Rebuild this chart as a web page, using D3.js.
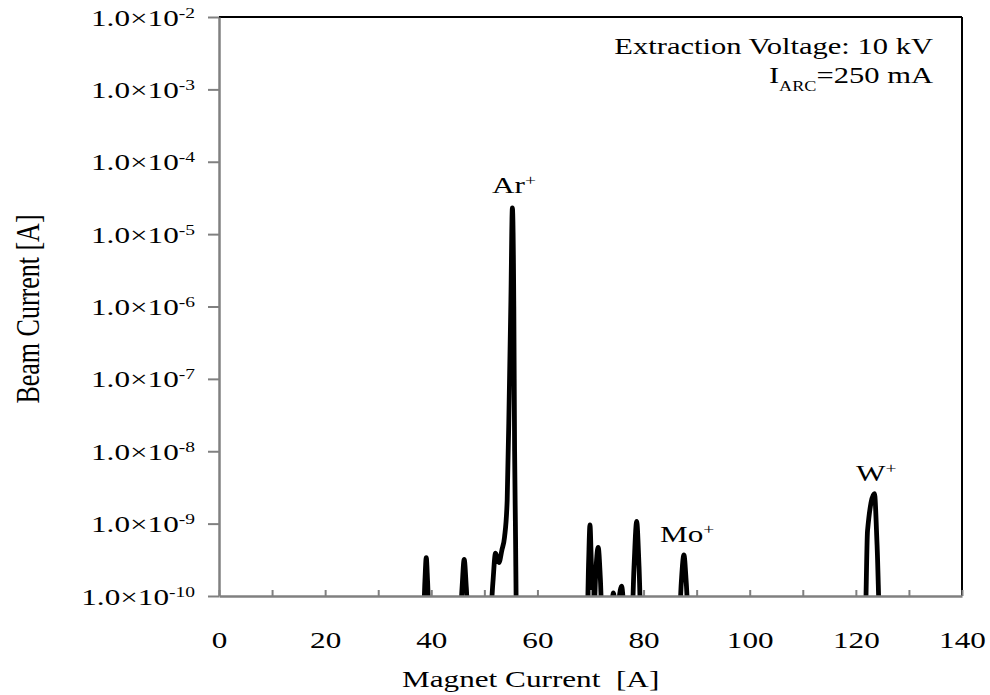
<!DOCTYPE html>
<html>
<head>
<meta charset="utf-8">
<script src="https://cdn.jsdelivr.net/npm/d3@7"></script>
<style>
  body { margin: 0; background: #fff; }
  svg text { font-family: "Liberation Serif", "Times New Roman", serif; fill: #000; }
</style>
</head>
<body>
<div id="chart"></div>
<script>
// magnet current sweep [A] and measured beam current [A]
// values below 1e-10 fall under the axis and get clipped, like in the original
const magnetCurrent = [
  0, 38.4, 38.8, 39.05, 39.3, 39.7,
  45.3, 45.8, 46.2, 46.6, 47.1,
  50.9, 51.6, 52.1, 52.75, 53.3, 53.8, 54.3, 54.7, 55.0, 55.28, 55.55, 55.7, 55.85, 56.1,
  69.3, 69.65, 69.9, 70.15, 70.55, 70.95, 71.45, 71.85, 72.3,
  73.7, 74.3, 74.9, 75.85, 76.7,
  77.7, 78.2, 78.7, 79.15, 79.6,
  86.6, 87.1, 87.6, 88.05, 88.6,
  121.7, 122.2, 123.5, 124.0, 124.6, 140
];
const beamCurrent = [
  3e-11, 3e-11, 1.6e-10, 3.4e-10, 1.6e-10, 3e-11,
  3e-11, 1.3e-10, 3.2e-10, 1.3e-10, 3e-11,
  3e-11, 1.5e-10, 3.9e-10, 2.9e-10, 4.3e-10, 6.5e-10, 2.1e-9, 6.3e-8, 1.2e-6, 2.3e-5, 1e-6, 1e-8, 1e-9, 3e-11,
  3e-11, 3e-10, 9.6e-10, 3e-10, 3e-11, 1.8e-10, 4.7e-10, 1.8e-10, 3e-11,
  3e-11, 1.1e-10, 6e-11, 1.37e-10, 3e-11,
  3e-11, 2.5e-10, 1.07e-9, 2.5e-10, 3e-11,
  3e-11, 1.5e-10, 3.7e-10, 1.5e-10, 3e-11,
  3e-11, 8e-10, 2.6e-9, 5e-10, 3e-11, 3e-11
];
const xTicks = [0, 10, 20, 30, 40, 50, 60, 70, 80, 90, 100, 110, 120, 130, 140];
const xLabels = [0, 20, 40, 60, 80, 100, 120, 140];
const yExponents = [-10, -9, -8, -7, -6, -5, -4, -3, -2];
const peakLabels = [["Ar", "+"], ["Mo", "+"], ["W", "+"]];

const width = 990, height = 695;
const margin = {top: 17, right: 28, bottom: 99, left: 219};
const plotW = width - margin.left - margin.right;
const plotH = height - margin.top - margin.bottom;
const sx = 1.3; // the original picture is stretched sideways

const svg = d3.select("#chart").append("svg")
    .attr("width", width)
    .attr("height", height);

const g = svg.append("g")
    .attr("transform", `translate(${margin.left},${margin.top})`);

const x = d3.scaleLinear().domain([0, 140]).range([0, plotW]);
const y = d3.scaleLog().domain([1e-10, 1e-2]).range([plotH, 0]);

// clip so the tails under 1e-10 disappear
g.append("clipPath").attr("id", "plotClip")
  .append("rect")
    .attr("x", 0).attr("y", -5)
    .attr("width", plotW).attr("height", plotH + 6);

const data = magnetCurrent.map((m, i) => [m, beamCurrent[i]]);

const line = d3.line()
    .x(d => x(d[0]))
    .y(d => y(d[1]))
    .curve(d3.curveMonotoneX);

g.append("path")
    .datum(data)
    .attr("clip-path", "url(#plotClip)")
    .attr("d", line)
    .attr("fill", "none")
    .attr("stroke", "#000")
    .attr("stroke-width", 4.8)
    .attr("stroke-linejoin", "round");

// frame (top and right are black)
g.append("line")
    .attr("x1", 0).attr("x2", plotW).attr("y1", 0).attr("y2", 0)
    .attr("stroke", "#000").attr("stroke-width", 2);
g.append("line")
    .attr("x1", plotW).attr("x2", plotW).attr("y1", 0).attr("y2", plotH)
    .attr("stroke", "#000").attr("stroke-width", 2);

// x axis
const xAxis = g.append("g")
    .attr("transform", `translate(0,${plotH})`)
    .call(d3.axisBottom(x).tickValues(xTicks).tickSize(-6).tickSizeOuter(0)
        .tickFormat(d => xLabels.includes(d) ? d : ""));
xAxis.select(".domain").attr("stroke", "#808080").attr("stroke-width", 2.5);
xAxis.selectAll(".tick line").attr("stroke", "#808080").attr("stroke-width", 2);
xAxis.selectAll(".tick text")
    .attr("y", 52).attr("dy", 0)
    .attr("transform", `scale(${sx},1)`)
    .style("font-size", "24px");

// y axis
const yAxis = g.append("g")
    .call(d3.axisLeft(y).tickValues(yExponents.map(e => Math.pow(10, e)))
        .tickSize(11).tickSizeOuter(0).tickFormat(""));
yAxis.select(".domain").attr("stroke", "#808080").attr("stroke-width", 2.5);
yAxis.selectAll(".tick line").attr("stroke", "#808080").attr("stroke-width", 2);
yAxis.selectAll(".tick").each(function (d, i) {
  const t = d3.select(this).append("text")
      .attr("x", -24 / sx)
      .attr("y", 8)
      .attr("text-anchor", "end")
      .attr("transform", `scale(${sx},1)`)
      .style("font-size", "24px");
  t.append("tspan").text("1.0\u00d710");
  t.append("tspan").attr("dy", -8).style("font-size", "15px").text(String(yExponents[i]));
});

// axis titles
svg.append("text")
    .attr("transform", `translate(402,687) scale(${sx},1)`)
    .style("font-size", "24px")
    .style("white-space", "pre")
    .text("Magnet Current  [A]");

svg.append("text")
    .attr("transform", `translate(39,309) scale(${sx},1) rotate(-90)`)
    .attr("text-anchor", "middle")
    .style("font-size", "26px")
    .text("Beam Current [A]");

// annotation box text
svg.append("text")
    .attr("transform", `translate(933,54) scale(${sx},1)`)
    .attr("text-anchor", "end")
    .style("font-size", "23.5px")
    .text("Extraction Voltage: 10 kV");

const arc = svg.append("text")
    .attr("transform", `translate(933,83) scale(${sx},1)`)
    .attr("text-anchor", "end")
    .style("font-size", "23.5px");
arc.append("tspan").text("I");
arc.append("tspan").attr("dy", 8).style("font-size", "14px").text("ARC");
arc.append("tspan").attr("dy", -8).text("=250 mA");

// peak labels
const labelPos = [[492, 193], [660, 542], [856, 481]];
peakLabels.forEach((p, i) => {
  const t = svg.append("text")
      .attr("transform", `translate(${labelPos[i][0]},${labelPos[i][1]}) scale(${sx},1)`)
      .style("font-size", "24px");
  t.append("tspan").text(p[0]);
  t.append("tspan").attr("dy", -8).style("font-size", "15px").text(p[1]);
});
</script>
</body>
</html>
